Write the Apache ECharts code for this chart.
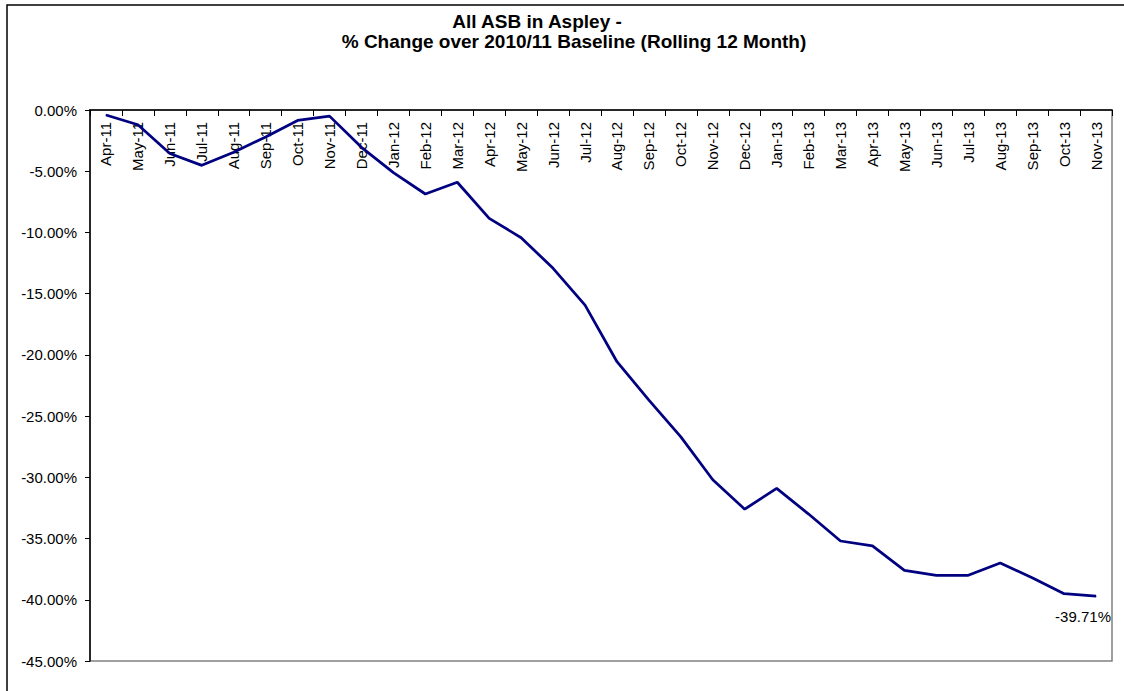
<!DOCTYPE html>
<html>
<head>
<meta charset="utf-8">
<script src="https://cdn.jsdelivr.net/npm/echarts@6/dist/echarts.min.js"></script>
<style>
html,body{margin:0;padding:0;background:#fff;}
#chart{width:1124px;height:691px;}
</style>
</head>
<body>
<div id="chart"></div>
<script>
const titleLine1 = 'All ASB in Aspley -';
const titleLine2 = '% Change over 2010/11 Baseline (Rolling 12 Month)';
const categories = ['Apr-11','May-11','Jun-11','Jul-11','Aug-11','Sep-11','Oct-11','Nov-11','Dec-11',
  'Jan-12','Feb-12','Mar-12','Apr-12','May-12','Jun-12','Jul-12','Aug-12','Sep-12','Oct-12','Nov-12','Dec-12',
  'Jan-13','Feb-13','Mar-13','Apr-13','May-13','Jun-13','Jul-13','Aug-13','Sep-13','Oct-13','Nov-13'];
const pctChange = [-0.41,-1.2,-3.55,-4.52,-3.45,-2.2,-0.85,-0.5,-3.05,
  -5.12,-6.86,-5.9,-8.85,-10.43,-12.93,-15.93,-20.56,-23.7,-26.7,-30.2,-32.6,
  -30.9,-33.0,-35.2,-35.6,-37.6,-38.0,-38.0,-37.0,-38.2,-39.5,-39.71];
const yMin = -45, yMax = 0, yStep = 5;

const FONT = '"Liberation Sans", Arial, sans-serif';
const chart = echarts.init(document.getElementById('chart'), null, {renderer: 'svg'});
const lastIdx = pctChange.length - 1;
chart.setOption({
  animation: false,
  backgroundColor: '#ffffff',
  graphic: [
    {type: 'rect', shape: {x: 7, y: 5, width: 1140, height: 720}, style: {fill: 'none', stroke: '#000', lineWidth: 1.5}, silent: true},
    {type: 'text', x: 537, y: 21, style: {text: titleLine1, font: 'bold 19px ' + FONT, fill: '#000', textAlign: 'center', textVerticalAlign: 'middle'}},
    {type: 'text', x: 574, y: 41, style: {text: titleLine2, font: 'bold 19px ' + FONT, fill: '#000', textAlign: 'center', textVerticalAlign: 'middle'}}
  ],
  grid: {left: 90, right: 12, top: 110, bottom: 30, show: true, borderColor: '#808080', borderWidth: 1.5, backgroundColor: '#fff'},
  xAxis: {
    type: 'category',
    data: categories,
    position: 'top',
    boundaryGap: true,
    axisLine: {show: true, lineStyle: {color: '#000', width: 1.5}},
    axisTick: {show: true, inside: true, length: 6, alignWithLabel: false, lineStyle: {color: '#000'}},
    axisLabel: {inside: true, rotate: 90, interval: 0, margin: 12, fontFamily: FONT, fontSize: 15, color: '#000'},
    splitLine: {show: false}
  },
  yAxis: {
    type: 'value',
    min: yMin, max: yMax, interval: yStep,
    axisLine: {show: true, lineStyle: {color: '#000', width: 1.5}},
    axisTick: {show: true, length: 5, lineStyle: {color: '#000'}},
    axisLabel: {margin: 13, fontFamily: FONT, fontSize: 15, color: '#000', formatter: v => v.toFixed(2) + '%'},
    splitLine: {show: false}
  },
  series: [{
    type: 'line',
    data: pctChange.map((v, i) => i === lastIdx ? {value: v, label: {show: true}} : v),
    symbol: 'circle',
    symbolSize: 1,
    showSymbol: true,
    itemStyle: {color: '#000080'},
    lineStyle: {color: '#000080', width: 2.75},
    label: {show: false, position: 'bottom', distance: 5, offset: [-13, 7], fontFamily: FONT, fontSize: 15, color: '#000', formatter: p => p.value.toFixed(2) + '%'}
  }]
});
</script>
</body>
</html>
